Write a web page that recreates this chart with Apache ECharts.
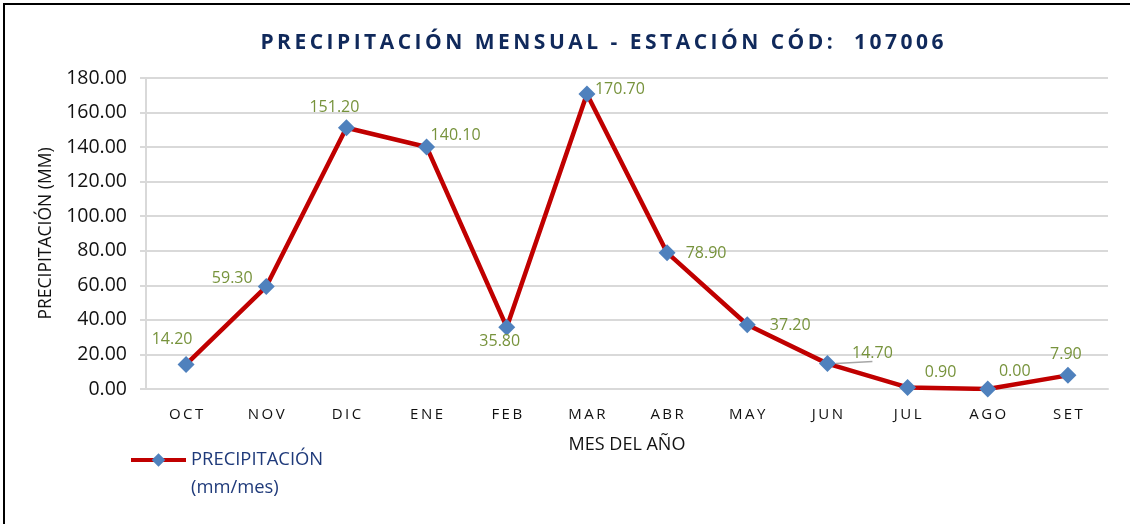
<!DOCTYPE html>
<html>
<head>
<meta charset="utf-8">
<script src="https://cdn.jsdelivr.net/npm/echarts@6/dist/echarts.min.js"></script>
<style>
  html, body { margin: 0; padding: 0; background: #fff; }
  #chart { position: absolute; left: 0; top: 0; width: 1130px; height: 524px; }
  #marco { position: absolute; left: 3px; top: 3px; width: 1130px; height: 524px; border-left: 2px solid #000; border-top: 2px solid #000; pointer-events: none; }
</style>
</head>
<body>
<div id="chart"></div>
<div id="marco"></div>
<script>
// datos de la estacion
var meses = ['OCT', 'NOV', 'DIC', 'ENE', 'FEB', 'MAR', 'ABR', 'MAY', 'JUN', 'JUL', 'AGO', 'SET'];
var precipitacion = [14.2, 59.3, 151.2, 140.1, 35.8, 170.7, 78.9, 37.2, 14.7, 0.9, 0.0, 7.9];
var yTicks = [0, 20, 40, 60, 80, 100, 120, 140, 160, 180];

// desplazamiento de cada etiqueta respecto al marcador
var labelOffsets = [[-14, -25], [-34, -8], [-12, -20], [29, -12], [-7, 14], [33, -5],
  [39, 1], [43, 1], [45, -10], [33, -15], [27, -18], [-2, -21]];

function espaciar(s, sep) {
  return s.split('').join(sep);
}

var chart = echarts.init(document.getElementById('chart'), null, { renderer: 'canvas' });

var option = {
  backgroundColor: '#ffffff',
  animation: false,
  title: {
    text: espaciar('PRECIPITACIÓN MENSUAL - ESTACIÓN CÓD:  107006', '\u2009'),
    left: 602,
    textAlign: 'center',
    top: 33,
    padding: 0,
    textStyle: {
      fontFamily: 'Open Sans',
      fontSize: 21,
      fontWeight: 'bold',
      color: '#10295b'
    }
  },
  grid: {
    left: 146,
    right: 22,
    top: 78,
    bottom: 135
  },
  legend: {
    left: 129,
    top: 418,
    padding: 0,
    itemWidth: 55,
    itemHeight: 17,
    lineStyle: { width: 4 },
    textStyle: {
      fontFamily: 'Open Sans',
      fontSize: 18.4,
      color: '#1f3a7a',
      lineHeight: 28
    },
    // linea vacia arriba para que el icono quede en la primera linea
    formatter: function (name) { return '\u00a0\n' + name; },
    data: ['PRECIPITACIÓN\n(mm/mes)']
  },
  xAxis: {
    type: 'category',
    data: meses,
    boundaryGap: true,
    name: 'MES DEL AÑO',
    nameLocation: 'middle',
    nameGap: 47,
    nameTextStyle: { fontFamily: 'Open Sans', fontSize: 18, color: '#111' },
    axisLine: { lineStyle: { color: '#d9d9d9', width: 2 } },
    axisTick: { show: false },
    axisLabel: {
      margin: 18,
      fontFamily: 'Open Sans',
      fontSize: 15,
      color: '#111',
      formatter: function (v) { return espaciar(v, '\u2009'); }
    }
  },
  yAxis: {
    type: 'value',
    min: yTicks[0],
    max: yTicks[yTicks.length - 1],
    interval: 20,
    name: 'PRECIPITACIÓN (MM)',
    nameLocation: 'middle',
    nameGap: 90,
    nameRotate: 90,
    nameTextStyle: { fontFamily: 'Open Sans', fontSize: 17.5, color: '#111' },
    axisLine: { show: true, lineStyle: { color: '#d9d9d9', width: 2 } },
    axisTick: { show: true, length: 6, lineStyle: { color: '#d9d9d9', width: 2 } },
    splitLine: { lineStyle: { color: '#d9d9d9', width: 2 } },
    axisLabel: {
      margin: 19,
      fontFamily: 'Open Sans',
      fontSize: 19.5,
      color: '#111',
      formatter: function (v) { return v.toFixed(2); }
    }
  },
  series: [{
    name: 'PRECIPITACIÓN\n(mm/mes)',
    type: 'line',
    symbol: 'diamond',
    symbolSize: 17,
    itemStyle: { color: '#4f81bd' },
    lineStyle: { color: '#c00000', width: 4.5 },
    label: {
      show: true,
      position: 'inside',
      fontFamily: 'Open Sans',
      fontSize: 16,
      color: '#77933c',
      formatter: function (p) { return p.value.toFixed(2); }
    },
    data: precipitacion.map(function (v, i) {
      var item = {
        value: v,
        label: { offset: labelOffsets[i] }
      };
      if (meses[i] === 'JUN') {
        item.labelLine = { show: true, lineStyle: { color: '#a6a6a6', width: 1.5 } };
      }
      return item;
    })
  }]
};

chart.setOption(option);
</script>
</body>
</html>
